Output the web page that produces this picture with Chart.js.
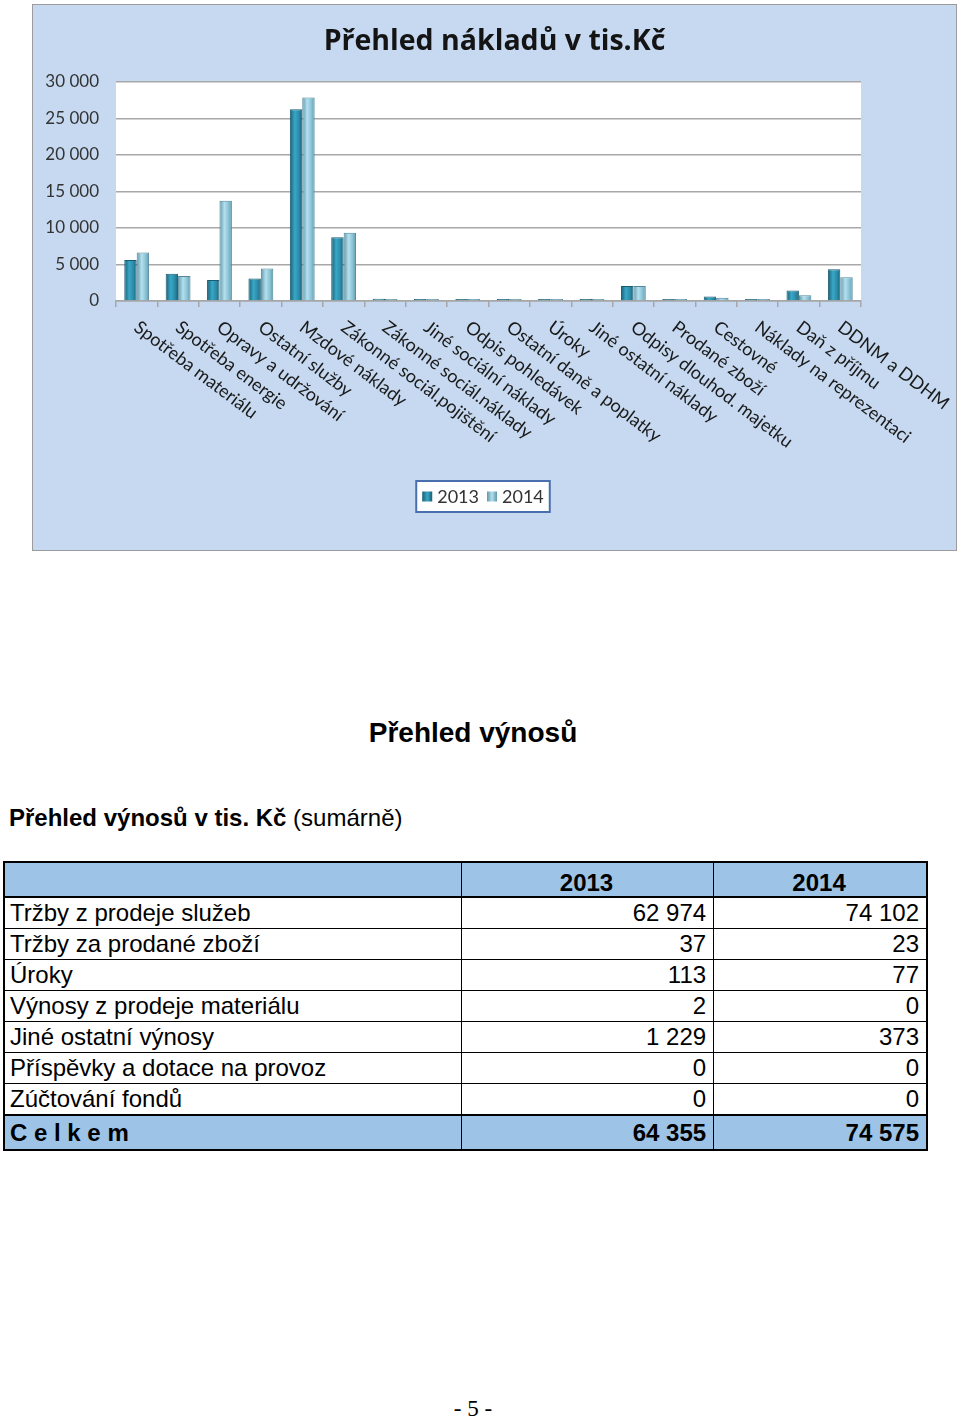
<!DOCTYPE html>
<html lang="cs">
<head>
<meta charset="utf-8">
<title>Přehled nákladů a výnosů</title>
<script src="https://cdn.jsdelivr.net/npm/chart.js@4/dist/chart.umd.min.js"></script>
<style>
    body { margin: 0; background: #fff; width: 960px; height: 1419px; position: relative; font-family: "Liberation Sans", Arial, sans-serif; color: #000; }
    #chart-box { position: absolute; left: 32px; top: 4px; width: 923px; height: 545px; border: 1px solid #9c9c9c; background: #c6d9f0; }
    #heading { position: absolute; left: 0; top: 717px; width: 946px; text-align: center; font-weight: bold; font-size: 28px; line-height: 32px; }
    #subtitle { position: absolute; left: 9px; top: 804px; font-size: 24px; line-height: 28px; }
    #subtitle b { font-weight: bold; }
    #revenue { position: absolute; left: 3px; top: 861px; width: 925px; border-collapse: collapse; font-size: 24px; border: 2px solid #000; }
    #revenue td { border: 1px solid #000; padding: 0 7px 0 5px; height: 30px; line-height: 26px; white-space: nowrap; }
    #revenue td.num { text-align: right; }
    #revenue tr.head td { background: #9dc3e6; font-weight: bold; text-align: center; height: 33px; border-bottom: 2px solid #000; vertical-align: bottom; }
    #revenue tr.total td { background: #9dc3e6; font-weight: bold; height: 33px; border-top: 2px solid #000; }
    #page-no { position: absolute; left: 0; top: 1396px; width: 946px; text-align: center; font-family: "Liberation Serif", "Times New Roman", serif; font-size: 23px; }
</style>
</head>
<body>
<div id="chart-box"><canvas id="costs"></canvas></div>

<div id="heading">Přehled výnosů</div>
<div id="subtitle"><b>Přehled výnosů v tis. Kč</b> (sumárně)</div>
<table id="revenue"></table>
<div id="page-no">- 5 -</div>

<script>
// Náklady (graf)
const chartTitle = 'Přehled nákladů v tis.Kč';
const categories = [
    'Spotřeba materiálu', 'Spotřeba energie', 'Opravy a udržování', 'Ostatní služby',
    'Mzdové náklady', 'Zákonné sociál.pojištění', 'Zákonné sociál.náklady', 'Jiné sociální náklady',
    'Odpis pohledávek', 'Ostatní daně a poplatky', 'Úroky', 'Jiné ostatní náklady',
    'Odpisy dlouhod. majetku', 'Prodané zboží', 'Cestovné', 'Náklady na reprezentaci',
    'Daň z příjmu', 'DDNM a DDHM'
];
const seriesNames = ['2013', '2014'];
const costs2013 = [5630, 3750, 2880, 3070, 26280, 8750, 300, 100, 60, 50, 250, 60, 2050, 40, 600, 80, 1450, 4350];
const costs2014 = [6640, 3430, 13740, 4440, 27880, 9340, 250, 80, 40, 40, 150, 50, 2050, 30, 460, 150, 800, 3250];
const yTicks = [0, 5000, 10000, 15000, 20000, 25000, 30000];

// Výnosy (tabulka)
const revenueRows = [
    'Tržby z prodeje služeb', 'Tržby za prodané zboží', 'Úroky', 'Výnosy z prodeje materiálu',
    'Jiné ostatní výnosy', 'Příspěvky a dotace na provoz', 'Zúčtování fondů'
];
const revenue2013 = [62974, 37, 113, 2, 1229, 0, 0];
const revenue2014 = [74102, 23, 77, 0, 373, 0, 0];
const revenueTotals = [64355, 74575];

function formatNumber(v) {
    return String(v).replace(/\B(?=(\d{3})+(?!\d))/g, ' ');
}

// Table
const table = document.getElementById('revenue');
let html = '<colgroup><col style="width:458px"><col style="width:253px"><col style="width:214px"></colgroup>';
html += '<tr class="head"><td></td><td>' + seriesNames[0] + '</td><td>' + seriesNames[1] + '</td></tr>';
revenueRows.forEach((name, i) => {
    html += '<tr><td>' + name + '</td><td class="num">' + formatNumber(revenue2013[i]) +
        '</td><td class="num">' + formatNumber(revenue2014[i]) + '</td></tr>';
});
html += '<tr class="total"><td>C e l k e m</td><td class="num">' + formatNumber(revenueTotals[0]) +
    '</td><td class="num">' + formatNumber(revenueTotals[1]) + '</td></tr>';
table.innerHTML = html;

// Bar colours: cylinder-like horizontal gradient
const palettes = [
    { edge: '#175f75', mid: '#3aa7c6', solid: '#2a8aa8', border: '#1a5a6e' },
    { edge: '#5f97aa', mid: '#b4e0ee', solid: '#86c0d3', border: '#50879a' }
];
const BAR_SHARE = 0.6;

function barFill(c, ds) {
    const pal = palettes[ds];
    const chart = c.chart;
    if (!chart.chartArea || c.dataIndex === undefined) return pal.solid;
    const xScale = chart.scales.x;
    const cx = xScale.getPixelForValue(c.dataIndex);
    const w = xScale.width / categories.length * BAR_SHARE / 2;
    const left = ds === 0 ? cx - w : cx;
    const g = chart.ctx.createLinearGradient(left, 0, left + w, 0);
    g.addColorStop(0, pal.edge);
    g.addColorStop(0.4, pal.mid);
    g.addColorStop(0.75, pal.solid);
    g.addColorStop(1, pal.edge);
    return g;
}

// White plot area + title centred on the whole box
const plotBackground = {
    id: 'plotBackground',
    beforeDraw(chart) {
        const a = chart.chartArea;
        const ctx = chart.ctx;
        ctx.save();
        ctx.fillStyle = '#ffffff';
        ctx.fillRect(a.left, a.top, a.right - a.left, a.bottom - a.top);
        ctx.font = 'bold 28.5px "Open Sans", Lato, sans-serif';
        ctx.fillStyle = '#141414';
        ctx.textAlign = 'center';
        ctx.textBaseline = 'middle';
        ctx.fillText(chartTitle, chart.width / 2, 37);
        ctx.restore();
    }
};

// Slanted category labels that start at the tick and run down to the right
const slantedLabels = {
    id: 'slantedLabels',
    afterDraw(chart) {
        const ctx = chart.ctx;
        const xScale = chart.scales.x;
        ctx.save();
        ctx.font = '18px Lato, "Open Sans", sans-serif';
        ctx.fillStyle = '#1a1a1a';
        ctx.textAlign = 'left';
        ctx.textBaseline = 'top';
        categories.forEach((label, i) => {
            const x = xScale.getPixelForValue(i);
            ctx.save();
            ctx.translate(x + 5, chart.chartArea.bottom + 17);
            ctx.rotate(37 * Math.PI / 180);
            ctx.fillText(label, 0, 0);
            ctx.restore();
        });
        ctx.restore();
    }
};

// Boxed legend under the labels
const boxedLegend = {
    id: 'boxedLegend',
    afterDraw(chart) {
        const ctx = chart.ctx;
        ctx.save();
        ctx.font = '18px Lato, "Open Sans", sans-serif';
        ctx.textBaseline = 'middle';
        const marker = 10, gap = 5, itemGap = 8, padX = 6;
        const widths = chart.data.datasets.map(d => ctx.measureText(d.label).width);
        const inner = widths.reduce((s, w) => s + marker + gap + w, 0) + itemGap * (widths.length - 1);
        const boxW = inner + padX * 2, boxH = 31;
        const cx = 450, top = 476;
        const left = cx - boxW / 2;
        ctx.fillStyle = '#ffffff';
        ctx.fillRect(left, top, boxW, boxH);
        ctx.strokeStyle = '#4a6fae';
        ctx.lineWidth = 2;
        ctx.strokeRect(left, top, boxW, boxH);
        let x = left + padX;
        const y = top + boxH / 2;
        chart.data.datasets.forEach((d, i) => {
            const g = ctx.createLinearGradient(x, 0, x + marker, 0);
            g.addColorStop(0, palettes[i].edge);
            g.addColorStop(0.5, palettes[i].mid);
            g.addColorStop(1, palettes[i].edge);
            ctx.fillStyle = g;
            ctx.fillRect(x, y - marker / 2, marker, marker);
            x += marker + gap;
            ctx.fillStyle = '#333333';
            ctx.fillText(d.label, x, y + 1);
            x += widths[i] + itemGap;
        });
        ctx.restore();
    }
};

new Chart(document.getElementById('costs'), {
    type: 'bar',
    data: {
        labels: categories,
        datasets: [{
            label: seriesNames[0],
            data: costs2013,
            backgroundColor: c => barFill(c, 0),
            borderColor: palettes[0].border,
            borderWidth: 1,
            minBarLength: 2
        }, {
            label: seriesNames[1],
            data: costs2014,
            backgroundColor: c => barFill(c, 1),
            borderColor: palettes[1].border,
            borderWidth: 1,
            minBarLength: 2
        }]
    },
    options: {
        responsive: true,
        maintainAspectRatio: false,
        animation: false,
        layout: { padding: { left: 0, right: 95, top: 77, bottom: 0 } },
        datasets: { bar: { categoryPercentage: BAR_SHARE, barPercentage: 1.0 } },
        plugins: {
            legend: { display: false },
            tooltip: { enabled: false },
            title: { display: false }
        },
        scales: {
            x: {
                offset: true,
                afterFit: s => { s.height = 249; },
                grid: { display: true, drawOnChartArea: false, drawTicks: true, tickLength: 6, color: '#a6a6a6', lineWidth: 1.5 },
                border: { display: true, color: '#a6a6a6', width: 1.5 },
                ticks: { display: false }
            },
            y: {
                min: 0,
                max: 30000,
                afterFit: s => { s.width = 83; },
                afterBuildTicks: s => { s.ticks = yTicks.map(v => ({ value: v })); },
                grid: { color: '#a8a8a8', lineWidth: 1.5, drawTicks: false },
                border: { display: false },
                ticks: {
                    padding: 17,
                    color: '#333333',
                    font: { family: 'Lato, "Open Sans", sans-serif', size: 17 },
                    callback: v => formatNumber(v)
                }
            }
        }
    },
    plugins: [plotBackground, slantedLabels, boxedLegend]
});
</script>
</body>
</html>
